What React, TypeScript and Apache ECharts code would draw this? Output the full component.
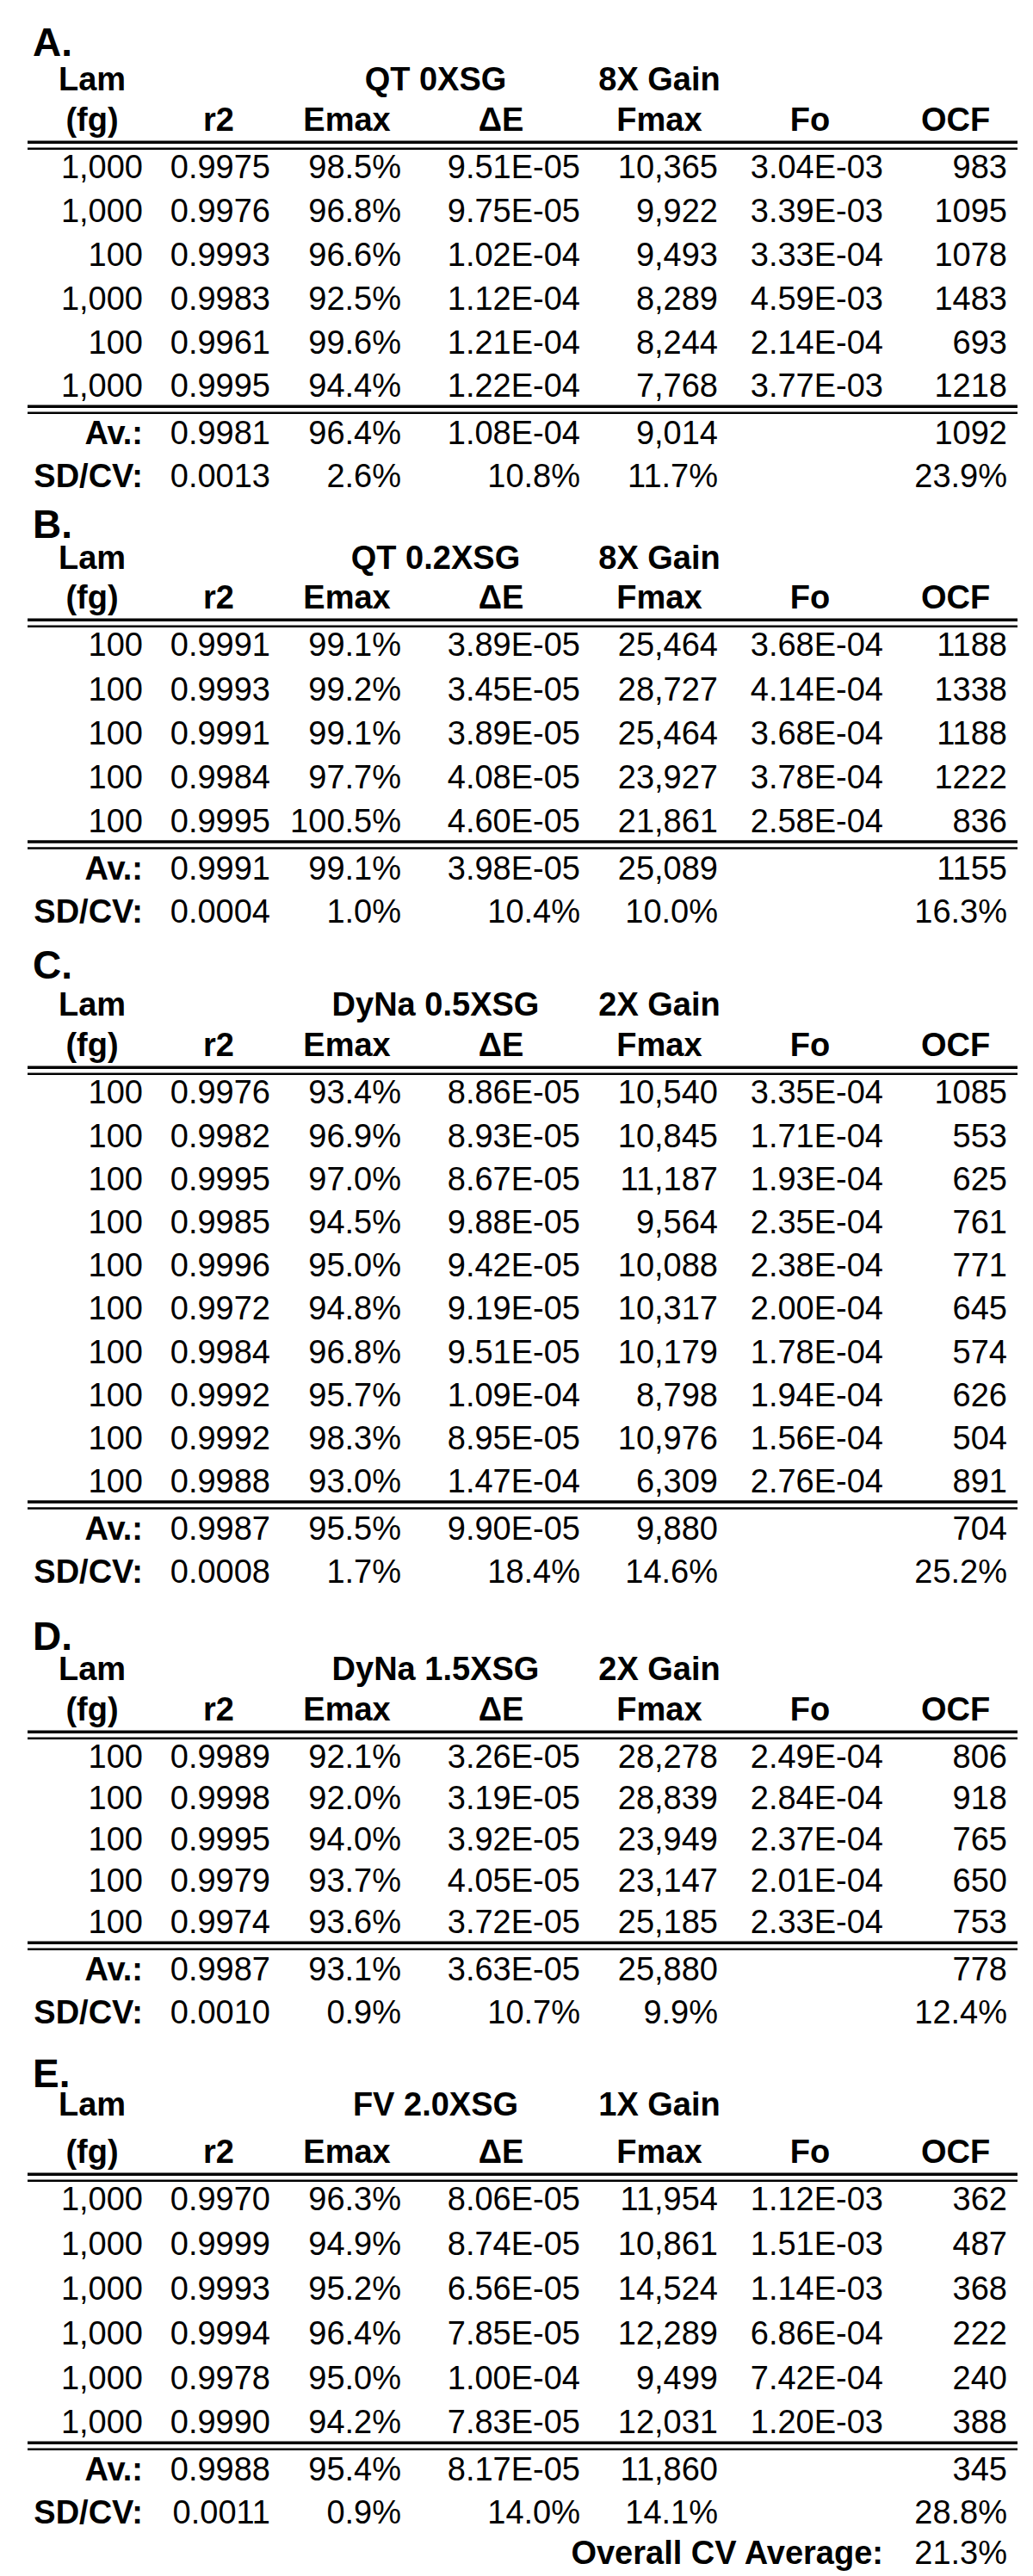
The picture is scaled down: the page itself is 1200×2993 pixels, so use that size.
import React, { useEffect, useRef } from "react";
import * as echarts from "echarts";

// ---------- data ----------
const SECTION_LETTERS = ["A.", "B.", "C.", "D.", "E."];
const SECTION_TITLES = ["QT 0XSG", "QT 0.2XSG", "DyNa 0.5XSG", "DyNa 1.5XSG", "FV 2.0XSG"];
const SECTION_GAINS = ["8X Gain", "8X Gain", "2X Gain", "2X Gain", "1X Gain"];
const HEADER_TOP = "Lam";
const COL_HEADERS = ["(fg)", "r2", "Emax", "ΔE", "Fmax", "Fo", "OCF"];

const A_ROWS = [
  ["1,000", "0.9975", "98.5%", "9.51E-05", "10,365", "3.04E-03", "983"],
  ["1,000", "0.9976", "96.8%", "9.75E-05", "9,922", "3.39E-03", "1095"],
  ["100", "0.9993", "96.6%", "1.02E-04", "9,493", "3.33E-04", "1078"],
  ["1,000", "0.9983", "92.5%", "1.12E-04", "8,289", "4.59E-03", "1483"],
  ["100", "0.9961", "99.6%", "1.21E-04", "8,244", "2.14E-04", "693"],
  ["1,000", "0.9995", "94.4%", "1.22E-04", "7,768", "3.77E-03", "1218"],
];
const A_AV = ["0.9981", "96.4%", "1.08E-04", "9,014", "", "1092"];
const A_SD = ["0.0013", "2.6%", "10.8%", "11.7%", "", "23.9%"];

const B_ROWS = [
  ["100", "0.9991", "99.1%", "3.89E-05", "25,464", "3.68E-04", "1188"],
  ["100", "0.9993", "99.2%", "3.45E-05", "28,727", "4.14E-04", "1338"],
  ["100", "0.9991", "99.1%", "3.89E-05", "25,464", "3.68E-04", "1188"],
  ["100", "0.9984", "97.7%", "4.08E-05", "23,927", "3.78E-04", "1222"],
  ["100", "0.9995", "100.5%", "4.60E-05", "21,861", "2.58E-04", "836"],
];
const B_AV = ["0.9991", "99.1%", "3.98E-05", "25,089", "", "1155"];
const B_SD = ["0.0004", "1.0%", "10.4%", "10.0%", "", "16.3%"];

const C_ROWS = [
  ["100", "0.9976", "93.4%", "8.86E-05", "10,540", "3.35E-04", "1085"],
  ["100", "0.9982", "96.9%", "8.93E-05", "10,845", "1.71E-04", "553"],
  ["100", "0.9995", "97.0%", "8.67E-05", "11,187", "1.93E-04", "625"],
  ["100", "0.9985", "94.5%", "9.88E-05", "9,564", "2.35E-04", "761"],
  ["100", "0.9996", "95.0%", "9.42E-05", "10,088", "2.38E-04", "771"],
  ["100", "0.9972", "94.8%", "9.19E-05", "10,317", "2.00E-04", "645"],
  ["100", "0.9984", "96.8%", "9.51E-05", "10,179", "1.78E-04", "574"],
  ["100", "0.9992", "95.7%", "1.09E-04", "8,798", "1.94E-04", "626"],
  ["100", "0.9992", "98.3%", "8.95E-05", "10,976", "1.56E-04", "504"],
  ["100", "0.9988", "93.0%", "1.47E-04", "6,309", "2.76E-04", "891"],
];
const C_AV = ["0.9987", "95.5%", "9.90E-05", "9,880", "", "704"];
const C_SD = ["0.0008", "1.7%", "18.4%", "14.6%", "", "25.2%"];

const D_ROWS = [
  ["100", "0.9989", "92.1%", "3.26E-05", "28,278", "2.49E-04", "806"],
  ["100", "0.9998", "92.0%", "3.19E-05", "28,839", "2.84E-04", "918"],
  ["100", "0.9995", "94.0%", "3.92E-05", "23,949", "2.37E-04", "765"],
  ["100", "0.9979", "93.7%", "4.05E-05", "23,147", "2.01E-04", "650"],
  ["100", "0.9974", "93.6%", "3.72E-05", "25,185", "2.33E-04", "753"],
];
const D_AV = ["0.9987", "93.1%", "3.63E-05", "25,880", "", "778"];
const D_SD = ["0.0010", "0.9%", "10.7%", "9.9%", "", "12.4%"];

const E_ROWS = [
  ["1,000", "0.9970", "96.3%", "8.06E-05", "11,954", "1.12E-03", "362"],
  ["1,000", "0.9999", "94.9%", "8.74E-05", "10,861", "1.51E-03", "487"],
  ["1,000", "0.9993", "95.2%", "6.56E-05", "14,524", "1.14E-03", "368"],
  ["1,000", "0.9994", "96.4%", "7.85E-05", "12,289", "6.86E-04", "222"],
  ["1,000", "0.9978", "95.0%", "1.00E-04", "9,499", "7.42E-04", "240"],
  ["1,000", "0.9990", "94.2%", "7.83E-05", "12,031", "1.20E-03", "388"],
];
const E_AV = ["0.9988", "95.4%", "8.17E-05", "11,860", "", "345"];
const E_SD = ["0.0011", "0.9%", "14.0%", "14.1%", "", "28.8%"];

const AV_LABEL = "Av.:";
const SD_LABEL = "SD/CV:";
const OVERALL_LABEL = "Overall CV Average:";
const OVERALL_VALUE = "21.3%";

// ---------- layout (not data) ----------
const W = 1200;
const H = 2993;
const FONT = "'Liberation Sans', Arial, Helvetica, sans-serif";
const FS = 38;
const LETTER_FS = 46;
const COL_RIGHT = [166, 314, 466, 674, 834, 1026, 1170];
const HEAD_CENTER = [107, 254, 403, 582, 766, 941, 1110];
const TITLE_CENTER = 506;
const GAIN_CENTER = 766;
const LINE_X0 = 32;
const LINE_X1 = 1182;
const LETTER_X = 38;
// per-section baselines: letter, "Lam" row, "(fg)" row, data row pitch
const SECTION_LAYOUT = [
  { letterY: 65, lamY: 106, fgY: 153, pitch: 50.8 },
  { letterY: 625, lamY: 662, fgY: 708, pitch: 51.2 },
  { letterY: 1137, lamY: 1181, fgY: 1228, pitch: 50.2 },
  { letterY: 1917, lamY: 1953, fgY: 2000, pitch: 48 },
  { letterY: 2425, lamY: 2459, fgY: 2514, pitch: 51.8 },
];
const OVERALL_Y = 2980;

const SECTIONS = [
  { rows: A_ROWS, av: A_AV, sd: A_SD },
  { rows: B_ROWS, av: B_AV, sd: B_SD },
  { rows: C_ROWS, av: C_AV, sd: C_SD },
  { rows: D_ROWS, av: D_AV, sd: D_SD },
  { rows: E_ROWS, av: E_AV, sd: E_SD },
];

function txt(text: string, x: number, baseline: number, align: string, bold: boolean, size = FS) {
  return {
    type: "text",
    silent: true,
    style: {
      text,
      x,
      y: baseline - 0.358 * size,
      fill: "#000",
      font: `${bold ? "bold " : ""}${size}px ${FONT}`,
      align,
      verticalAlign: "middle",
    },
  };
}

function doubleLine(baseline: number) {
  return [
    { type: "rect", silent: true, shape: { x: LINE_X0, y: baseline + 8.5, width: LINE_X1 - LINE_X0, height: 3.5 }, style: { fill: "#000" } },
    { type: "rect", silent: true, shape: { x: LINE_X0, y: baseline + 16.5, width: LINE_X1 - LINE_X0, height: 2.5 }, style: { fill: "#000" } },
  ];
}

function buildElements() {
  const els: any[] = [];
  SECTIONS.forEach((sec, si) => {
    const L = SECTION_LAYOUT[si];
    els.push(txt(SECTION_LETTERS[si], LETTER_X, L.letterY, "left", true, LETTER_FS));
    els.push(txt(HEADER_TOP, HEAD_CENTER[0], L.lamY, "center", true));
    els.push(txt(SECTION_TITLES[si], TITLE_CENTER, L.lamY, "center", true));
    els.push(txt(SECTION_GAINS[si], GAIN_CENTER, L.lamY, "center", true));
    COL_HEADERS.forEach((h, ci) => els.push(txt(h, HEAD_CENTER[ci], L.fgY, "center", true)));
    els.push(...doubleLine(L.fgY + 2));
    const firstRow = L.fgY + 55;
    sec.rows.forEach((row, ri) => {
      const y = firstRow + ri * L.pitch;
      row.forEach((v, ci) => els.push(txt(v, COL_RIGHT[ci], y, "right", false)));
    });
    const lastRow = firstRow + (sec.rows.length - 1) * L.pitch;
    els.push(...doubleLine(lastRow));
    const avY = lastRow + 55;
    const sdY = avY + 50;
    els.push(txt(AV_LABEL, COL_RIGHT[0], avY, "right", true));
    sec.av.forEach((v, ci) => { if (v) els.push(txt(v, COL_RIGHT[ci + 1], avY, "right", false)); });
    els.push(txt(SD_LABEL, COL_RIGHT[0], sdY, "right", true));
    sec.sd.forEach((v, ci) => { if (v) els.push(txt(v, COL_RIGHT[ci + 1], sdY, "right", false)); });
  });
  els.push(txt(OVERALL_LABEL, COL_RIGHT[5], OVERALL_Y, "right", true));
  els.push(txt(OVERALL_VALUE, COL_RIGHT[6], OVERALL_Y, "right", false));
  return els;
}

export default function App() {
  const ref = useRef<HTMLDivElement>(null);
  useEffect(() => {
    if (!ref.current) return;
    const chart = echarts.init(ref.current, undefined, { renderer: "svg", width: W, height: H });
    chart.setOption({
      animation: false,
      backgroundColor: "#ffffff",
      graphic: { elements: buildElements() },
    });
    return () => chart.dispose();
  }, []);
  return (
    <div
      ref={ref}
      style={{ position: "absolute", left: 0, top: 0, width: W, height: H, background: "#fff" }}
    />
  );
}
